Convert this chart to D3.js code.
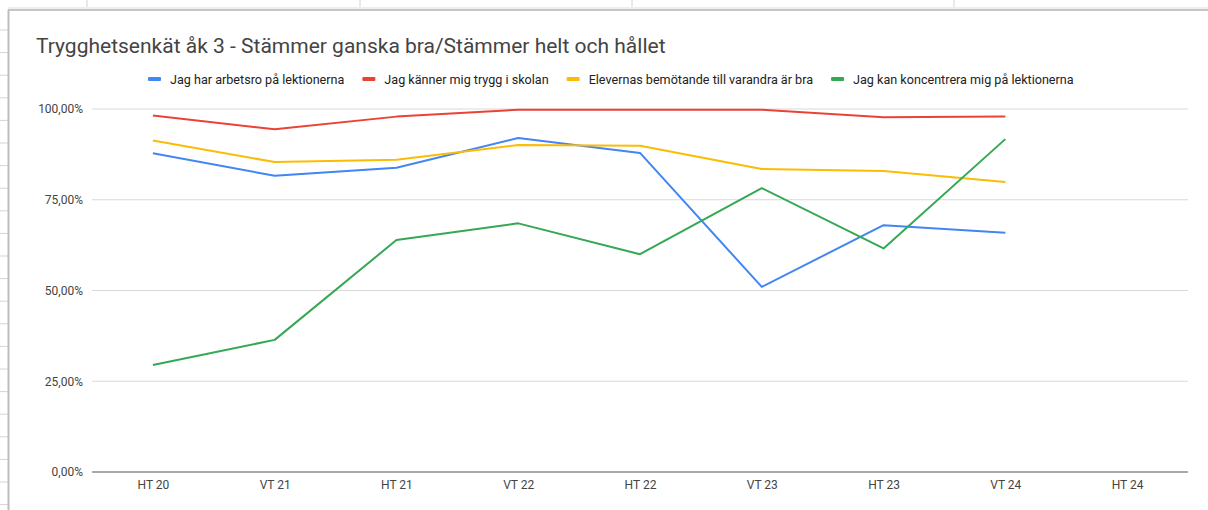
<!doctype html>
<html>
<head>
<meta charset="utf-8">
<script src="https://d3js.org/d3.v7.min.js"></script>
<style>
  body { margin: 0; background: #fff; }
  svg { display: block; font-family: Roboto, Arial, sans-serif; }
</style>
</head>
<body>
<svg width="1208" height="510"></svg>
<script>
// data
var terms = ["HT 20", "VT 21", "HT 21", "VT 22", "HT 22", "VT 23", "HT 23", "VT 24", "HT 24"];
var seriesNames = [
  "Jag har arbetsro på lektionerna",
  "Jag känner mig trygg i skolan",
  "Elevernas bemötande till varandra är bra",
  "Jag kan koncentrera mig på lektionerna"
];
var arbetsro    = [0.878, 0.816, 0.838, 0.920, 0.879, 0.510, 0.680, 0.659];
var trygg       = [0.982, 0.944, 0.979, 0.998, 0.998, 0.998, 0.977, 0.979];
var bemotande   = [0.913, 0.854, 0.860, 0.901, 0.899, 0.835, 0.829, 0.799];
var koncentrera = [0.295, 0.364, 0.639, 0.685, 0.600, 0.782, 0.616, 0.917];
var yTicks = [0, 0.25, 0.5, 0.75, 1];
var colors = ["#4285f4", "#ea4335", "#fbbc04", "#34a853"];

var svg = d3.select("svg");

// spreadsheet background behind the chart
var rowLines = d3.range(30, 510, 22.6);
svg.selectAll(".row").data(rowLines).enter().append("line")
  .attr("x1", 0).attr("x2", 8).attr("y1", d => d).attr("y2", d => d)
  .attr("stroke", "#d4d4d4").attr("stroke-width", 1);
svg.selectAll(".col").data([87, 360, 632, 954]).enter().append("line")
  .attr("x1", d => d).attr("x2", d => d).attr("y1", 0).attr("y2", 8)
  .attr("stroke", "#d4d4d4").attr("stroke-width", 1);

// chart frame
svg.append("rect").attr("x", 8).attr("y", 7).attr("width", 1200).attr("height", 2).attr("fill", "#eeeeee");
svg.append("line").attr("x1", 8).attr("x2", 1208).attr("y1", 10).attr("y2", 10)
  .attr("stroke", "#c6c6c6").attr("stroke-width", 2);
svg.append("line").attr("x1", 8.5).attr("x2", 8.5).attr("y1", 10).attr("y2", 510)
  .attr("stroke", "#bdbdbd").attr("stroke-width", 2);

// title
svg.append("text")
  .attr("x", 36).attr("y", 53)
  .attr("font-size", "21px")
  .attr("fill", "#444")
  .text("Trygghetsenkät åk 3 - Stämmer ganska bra/Stämmer helt och hållet");

var plotLeft = 92, plotRight = 1188, plotTop = 109, plotBottom = 472;

var x = d3.scalePoint().domain(terms).range([plotLeft, plotRight]).padding(0.5);
var y = d3.scaleLinear().domain([0, 1]).range([plotBottom, plotTop]);

// gridlines
svg.append("g").selectAll("line").data(yTicks.filter(d => d > 0)).enter().append("line")
  .attr("x1", plotLeft).attr("x2", plotRight)
  .attr("y1", d => y(d)).attr("y2", d => y(d))
  .attr("stroke", "#d9d9d9").attr("stroke-width", 1);

// y axis labels
var yAxis = svg.append("g")
  .attr("transform", "translate(" + plotLeft + ",0)")
  .call(d3.axisLeft(y).tickValues(yTicks).tickSize(0).tickPadding(9)
    .tickFormat(d => d3.format(".2f")(d * 100).replace(".", ",") + "%"));
yAxis.select(".domain").remove();
yAxis.selectAll("text").attr("font-size", "12px").attr("fill", "#444").attr("font-family", "Roboto, Arial, sans-serif");

// x axis
var xAxis = svg.append("g")
  .attr("transform", "translate(0," + plotBottom + ")")
  .call(d3.axisBottom(x).tickSize(0).tickPadding(8));
xAxis.select(".domain").attr("stroke", "#8c8c8c").attr("stroke-width", 1.5)
  .attr("d", "M" + plotLeft + ",0H" + plotRight);
xAxis.selectAll("text").attr("font-size", "12px").attr("fill", "#444").attr("font-family", "Roboto, Arial, sans-serif");

// lines
var allSeries = [arbetsro, trygg, bemotande, koncentrera];
var line = d3.line().x((d, i) => x(terms[i])).y(d => y(d));
svg.append("g").selectAll("path").data(allSeries).enter().append("path")
  .attr("d", line)
  .attr("fill", "none")
  .attr("stroke", (d, i) => colors[i])
  .attr("stroke-width", 2)
  .attr("stroke-linejoin", "round");

// legend
var legend = svg.append("g").attr("transform", "translate(0,79)");
var lx = 148;
seriesNames.forEach(function(name, i) {
  var g = legend.append("g").attr("transform", "translate(" + lx + ",0)");
  g.append("rect").attr("x", 0).attr("y", -2).attr("width", 13).attr("height", 4)
    .attr("rx", 1).attr("fill", colors[i]);
  var t = g.append("text").attr("x", 22).attr("y", 4.5)
    .attr("font-size", "12.6px").attr("fill", "#222").text(name);
  lx += 22 + t.node().getComputedTextLength() + 18;
});
</script>
</body>
</html>
